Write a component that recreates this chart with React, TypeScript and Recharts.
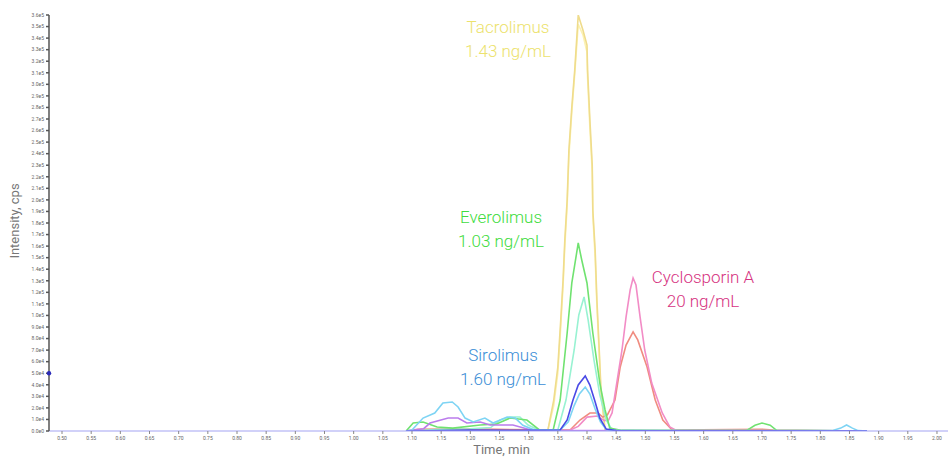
import { LineChart, Line, XAxis, YAxis, ReferenceDot, Label } from 'recharts';

// axis ticks
const xTicks = [
  0.5, 0.55, 0.6, 0.65, 0.7, 0.75, 0.8, 0.85, 0.9, 0.95, 1.0, 1.05, 1.1, 1.15, 1.2, 1.25,
  1.3, 1.35, 1.4, 1.45, 1.5, 1.55, 1.6, 1.65, 1.7, 1.75, 1.8, 1.85, 1.9, 1.95, 2.0,
];
const yTicks = [
  0, 10000, 20000, 30000, 40000, 50000, 60000, 70000, 80000, 90000, 100000, 110000, 120000,
  130000, 140000, 150000, 160000, 170000, 180000, 190000, 200000, 210000, 220000, 230000,
  240000, 250000, 260000, 270000, 280000, 290000, 300000, 310000, 320000, 330000, 340000,
  350000, 360000,
];

// Tacrolimus (time in min, intensity in cps)
const tacTimes = [1.09, 1.2, 1.3, 1.333, 1.343, 1.35, 1.355, 1.359, 1.362, 1.366, 1.369, 1.374, 1.379, 1.385, 1.393, 1.4, 1.401, 1.405, 1.409, 1.41, 1.414, 1.417, 1.421, 1.424, 1.431, 1.45, 1.6, 1.88];
const tacA = [0, 800, 1200, 900, 26800, 55400, 96000, 130600, 165300, 199900, 243200, 280400, 312400, 360000, 347000, 334000, 312400, 269100, 230200, 191300, 156600, 113400, 70100, 35500, 900, 400, 300, 0];
const tacB = [0, 600, 1000, 700, 22000, 50000, 90000, 126000, 160000, 195000, 238000, 276000, 309000, 352000, 343000, 328000, 306000, 262000, 224000, 187000, 150000, 108000, 66000, 32000, 700, 300, 200, 0];

// Everolimus
const everoATimes = [1.09, 1.102, 1.119, 1.143, 1.17, 1.217, 1.245, 1.268, 1.297, 1.319, 1.342, 1.354, 1.366, 1.374, 1.385, 1.391, 1.4, 1.41, 1.422, 1.431, 1.439, 1.46, 1.6, 1.674, 1.688, 1.7, 1.714, 1.725, 1.88];
const everoA = [0, 6900, 7800, 3500, 2500, 5200, 6000, 11200, 9500, 800, 900, 26800, 84800, 128100, 162700, 148000, 128100, 84800, 41500, 18200, 2600, 500, 400, 600, 5000, 6900, 5000, 600, 0];
const everoBTimes = [1.09, 1.15, 1.2, 1.235, 1.251, 1.268, 1.285, 1.299, 1.319, 1.35, 1.364, 1.378, 1.386, 1.395, 1.402, 1.412, 1.422, 1.433, 1.443, 1.5, 1.88];
const everoB = [0, 1500, 2000, 3000, 9500, 12100, 12100, 5200, 500, 900, 26800, 70100, 100400, 116000, 96000, 61400, 31200, 9500, 900, 300, 0];

// Sirolimus
const siroATimes = [1.09, 1.2, 1.3, 1.354, 1.366, 1.376, 1.385, 1.397, 1.405, 1.414, 1.422, 1.433, 1.45, 1.88];
const siroA = [0, 800, 500, 900, 9500, 26800, 39800, 47600, 39800, 25100, 11200, 1700, 300, 0];
const siroBTimes = [1.09, 1.1, 1.119, 1.139, 1.153, 1.169, 1.179, 1.191, 1.205, 1.225, 1.239, 1.263, 1.277, 1.29, 1.31, 1.354, 1.368, 1.378, 1.387, 1.397, 1.405, 1.414, 1.423, 1.433, 1.45, 1.82, 1.835, 1.845, 1.855, 1.865, 1.88];
const siroB = [0, 900, 11200, 15600, 24200, 25100, 20800, 11200, 7800, 11200, 6900, 12100, 11200, 5000, 800, 900, 8000, 22000, 32000, 38100, 32000, 19000, 8000, 1200, 300, 300, 2500, 5200, 2500, 300, 0];

// violet trace, early bump only
const violetTimes = [1.09, 1.12, 1.131, 1.162, 1.179, 1.194, 1.217, 1.234, 1.273, 1.307, 1.34, 1.88];
const violet = [0, 2000, 6900, 11200, 11200, 6900, 7800, 5200, 5200, 500, 300, 0];

// Cyclosporin A
const cycATimes = [1.09, 1.3, 1.37, 1.385, 1.4, 1.418, 1.43, 1.437, 1.443, 1.451, 1.46, 1.467, 1.474, 1.479, 1.484, 1.491, 1.499, 1.511, 1.529, 1.542, 1.554, 1.65, 1.88];
const cycA = [0, 300, 600, 4000, 12000, 13000, 9000, 9500, 15600, 41500, 70100, 98700, 122000, 132400, 126300, 98700, 70100, 41500, 15600, 3500, 300, 300, 0];
const cycBTimes = [1.09, 1.11, 1.2, 1.3, 1.371, 1.388, 1.405, 1.419, 1.427, 1.435, 1.448, 1.457, 1.467, 1.479, 1.487, 1.503, 1.517, 1.53, 1.546, 1.7, 1.72, 1.88];
const cycB = [0, 1500, 2000, 1000, 900, 9500, 15600, 15600, 12000, 14000, 26800, 55400, 74400, 85700, 78800, 55400, 26800, 9500, 900, 1500, 800, 0];

const toPoints = (times: number[], values: number[]) =>
  times.map((t, i) => ({ t, v: values[i] }));

const traces = [
  { key: 'tacB', data: toPoints(tacTimes, tacB), color: '#fcf2b2' },
  { key: 'tacA', data: toPoints(tacTimes, tacA), color: '#efdc8c' },
  { key: 'cycB', data: toPoints(cycBTimes, cycB), color: '#f08c80' },
  { key: 'cycA', data: toPoints(cycATimes, cycA), color: '#f28cc6' },
  { key: 'everoB', data: toPoints(everoBTimes, everoB), color: '#98f2d2' },
  { key: 'everoA', data: toPoints(everoATimes, everoA), color: '#70e270' },
  { key: 'violet', data: toPoints(violetTimes, violet), color: '#bb7cec' },
  { key: 'siroB', data: toPoints(siroBTimes, siroB), color: '#7ed4f4' },
  { key: 'siroA', data: toPoints(siroATimes, siroA), color: '#4a4ae6' },
];

const notes = [
  { lines: ['Tacrolimus', '1.43 ng/mL'], color: '#ece26c', cx: 508, top: 15 },
  { lines: ['Everolimus', '1.03 ng/mL'], color: '#40dc40', cx: 501, top: 205 },
  { lines: ['Sirolimus', '1.60 ng/mL'], color: '#3b8ed6', cx: 503, top: 343 },
  { lines: ['Cyclosporin A', '20 ng/mL'], color: '#d6337f', cx: 703, top: 265 },
];

const fmtY = (v: number) => {
  if (v === 0) return '0.0e0';
  const e = Math.floor(Math.log10(v) + 1e-9);
  return (v / Math.pow(10, e)).toFixed(1) + 'e' + e;
};

export default function App() {
  return (
    <div style={{ position: 'absolute', left: 0, top: 0, width: 948, height: 458, fontFamily: 'Roboto, sans-serif' }}>
      <LineChart width={948} height={458} margin={{ top: 15, right: 0, bottom: 0, left: 0 }}>
        <XAxis
          type="number"
          dataKey="t"
          domain={[0.4777, 2.0189]}
          ticks={xTicks}
          interval={0}
          allowDataOverflow
          height={27}
          stroke="#a3a3f2"
          tickLine={{ stroke: '#888' }}
          tickSize={3}
          tick={{ fontSize: 5, fill: '#666' }}
          tickFormatter={(v: number) => v.toFixed(2)}
        >
          <Label value="Time, min" position="insideBottom" offset={4} dx={3} style={{ fontSize: 13, fill: '#777' }} />
        </XAxis>
        <YAxis
          type="number"
          dataKey="v"
          domain={[0, 360000]}
          ticks={yTicks}
          interval={0}
          allowDataOverflow
          width={49}
          stroke="#555"
          strokeWidth={1.5}
          tickSize={3}
          tick={{ fontSize: 5, fill: '#666' }}
          tickFormatter={fmtY}
        />
        {traces.map((tr) => (
          <Line
            key={tr.key}
            data={tr.data}
            dataKey="v"
            type="linear"
            stroke={tr.color}
            strokeWidth={1.6}
            dot={false}
            isAnimationActive={false}
          />
        ))}
        <ReferenceDot x={0.4777} y={50000} r={2.2} fill="#2b2bb8" stroke="none" ifOverflow="visible" />
      </LineChart>
      <div
        style={{
          position: 'absolute',
          left: 14,
          top: 221,
          transform: 'translate(-50%, -50%) rotate(-90deg)',
          fontSize: 13,
          color: '#777',
          whiteSpace: 'nowrap',
        }}
      >
        Intensity, cps
      </div>
      {notes.map((n) => (
        <div
          key={n.lines[0]}
          style={{
            position: 'absolute',
            left: n.cx,
            top: n.top,
            transform: 'translateX(-50%)',
            textAlign: 'center',
            color: n.color,
            fontSize: 17,
            fontWeight: 300,
            lineHeight: '24px',
            whiteSpace: 'nowrap',
          }}
        >
          {n.lines.map((l) => (
            <div key={l}>{l}</div>
          ))}
        </div>
      ))}
    </div>
  );
}
